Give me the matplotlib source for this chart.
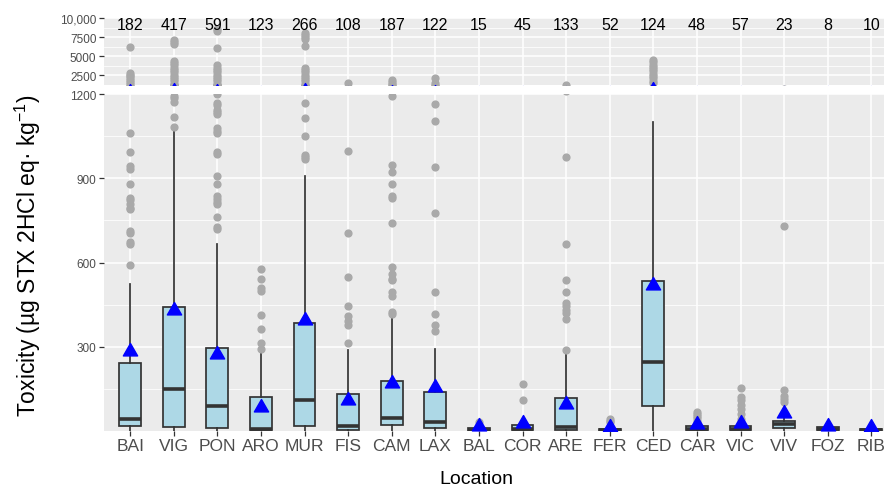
import matplotlib
matplotlib.use("Agg")
import matplotlib.pyplot as plt
from matplotlib.path import Path
import numpy as np

plt.rcParams['font.family'] = ['Liberation Sans', 'DejaVu Sans']
plt.rcParams['mathtext.fontset'] = 'custom'
plt.rcParams['mathtext.rm'] = 'Liberation Sans'
plt.rcParams['mathtext.it'] = 'Liberation Sans:italic'

# ---- data -------------------------------------------------------------
sites = ["BAI", "VIG", "PON", "ARO", "MUR", "FIS", "CAM", "LAX", "BAL",
         "COR", "ARE", "FER", "CED", "CAR", "VIC", "VIV", "FOZ", "RIB"]
counts = [182, 417, 591, 123, 266, 108, 187, 122, 15,
          45, 133, 52, 124, 48, 57, 23, 8, 10]

q1 = [20, 14, 11, 3, 19, 6, 21, 13, 2, 3, 3, 2, 90, 3, 3, 11, 3, 2]
median = [43, 149, 90, 8, 110, 19, 46, 33, 5, 8, 16, 4, 246, 8, 8, 25, 7, 4]
q3 = [243, 442, 295, 122, 384, 131, 178, 140, 10, 22, 119, 7, 533, 20, 20, 37, 15, 8]
whisk_lo = [0, 0, 0, 0, 0, 0, 0, 0, 0, 0, 0, 0, 0, 0, 0, 0, 0, 0]
whisk_hi = [523, 1070, 666, 282, 910, 290, 405, 294, 18, 40, 275, 10, 1100, 32, 35, 50, 20, 12]
means = [285, 430, 275, 85, 397, 110, 172, 158, 20, 28, 96, 14, 521, 25, 28, 66, 20, 16]

outliers = {
    "BAI": [592, 667, 674, 706, 712, 790, 795, 810, 822, 830, 880, 934, 944,
            995, 1060, 1350, 1600, 1850, 2100, 2350, 2600, 2850, 6200],
    "VIG": [1084, 1117, 1170, 1184, 1192, 1400, 1700, 2000, 2300, 2600, 2900,
            3200, 3500, 3800, 4100, 4400, 6600, 6850, 7100],
    "PON": [719, 727, 764, 807, 816, 828, 837, 881, 910, 987, 993, 1062, 1070,
            1078, 1129, 1135, 1144, 1161, 1168, 1200, 1400, 1700, 2000, 2300,
            2600, 2900, 3200, 3500, 3800, 6100, 8300, 8600],
    "ARO": [293, 314, 365, 412, 500, 510, 540, 576],
    "MUR": [967, 975, 984, 1052, 1114, 1168, 1400, 1700, 2000, 2300, 2600,
            2900, 3200, 3500, 6400, 7300, 7550, 7800, 8100],
    "FIS": [313, 379, 391, 409, 444, 550, 706, 998, 1490],
    "CAM": [417, 426, 480, 497, 538, 541, 561, 584, 740, 830, 837, 880, 924,
            948, 1194, 1350, 1600, 1850],
    "LAX": [358, 379, 418, 495, 775, 939, 1105, 1165, 1500, 2150],
    "BAL": [33],
    "COR": [112, 167],
    "ARE": [290, 400, 420, 432, 444, 456, 497, 538, 665, 977, 1210],
    "FER": [32, 38, 44],
    "CED": [1500, 1800, 2100, 2400, 2700, 3000, 3300, 3600, 3900, 4200, 4500],
    "CAR": [38, 46, 54, 62, 68],
    "VIC": [42, 60, 78, 92, 110, 122, 154],
    "VIV": [103, 115, 125, 147, 729],
    "FOZ": [],
    "RIB": [],
}

low_ticks = [300, 600, 900, 1200]
low_tick_labels = ["300", "600", "900", "1200"]
high_ticks = [2500, 5000, 7500, 10000]
high_tick_labels = ["2500", "5000", "7500", "10,000"]

# ---- styling -------------------------------------------------------------
W, H = 884, 489
fig = plt.figure(figsize=(W / 100, H / 100), dpi=100)

left_px, right_px = 104, 897.5
ax_hi = fig.add_axes([left_px / W, 1 - 86 / H, (right_px - left_px) / W, 67 / H])
ax_lo = fig.add_axes([left_px / W, 1 - 431.7 / H, (right_px - left_px) / W, (431.7 - 95) / H])

panel_bg = "#EBEBEB"
edge = "#333333"
positions = np.arange(1, len(sites) + 1)

stats = []
for i, s in enumerate(sites):
    stats.append(dict(label=s, q1=q1[i], med=median[i], q3=q3[i],
                      whislo=whisk_lo[i], whishi=whisk_hi[i],
                      mean=means[i], fliers=outliers[s]))

# flattened triangle, like ggplot's filled triangle
tri = Path([(-1.0, -0.62), (1.0, -0.62), (0.0, 1.12), (-1.0, -0.62)],
           [Path.MOVETO, Path.LINETO, Path.LINETO, Path.CLOSEPOLY])

for ax in (ax_hi, ax_lo):
    ax.set_facecolor(panel_bg)
    for sp in ax.spines.values():
        sp.set_visible(False)
    ax.set_axisbelow(True)
    ax.grid(True, which="major", color="white", lw=1.1)
    ax.grid(True, which="minor", axis="y", color="white", lw=0.55)
    ax.bxp(stats, positions=positions, widths=0.5, patch_artist=True,
           showcaps=False, showmeans=True, showfliers=True,
           boxprops=dict(facecolor="#ADD8E6", edgecolor=edge, lw=1.25),
           medianprops=dict(color=edge, lw=2.6, solid_capstyle="butt"),
           whiskerprops=dict(color=edge, lw=1.25),
           flierprops=dict(marker="o", markersize=4.9, markerfacecolor="#A9A9A9",
                           markeredgecolor="#A9A9A9", linestyle="none"),
           meanprops=dict(marker=tri, markersize=11.5, markerfacecolor="blue",
                          markeredgecolor="blue", linestyle="none"))
    ax.set_xlim(0.4, len(sites) + 0.6)
    ax.tick_params(axis="y", colors="#333333", labelcolor="#4D4D4D",
                   labelsize=8.5, length=3.5, width=0.9, pad=2)

# lower segment
ax_lo.set_ylim(2, 1200)
ax_lo.set_yticks(low_ticks)
ax_lo.set_yticklabels(low_tick_labels)
ax_lo.set_yticks([150, 450, 750, 1050], minor=True)
ax_lo.tick_params(axis="y", which="minor", length=0)
ax_lo.set_xticks(positions)
ax_lo.set_xticklabels(sites)
ax_lo.tick_params(axis="x", colors="#333333", labelcolor="#4D4D4D",
                  labelsize=12.5, length=3.5, width=0.9, pad=2)

# upper segment
ax_hi.set_ylim(1230, 10000)
ax_hi.set_yticks(high_ticks)
ax_hi.set_yticklabels(high_tick_labels)
ax_hi.set_yticks([3750, 6250, 8750], minor=True)
ax_hi.tick_params(axis="y", which="minor", length=0)
ax_hi.set_xticks(positions)
ax_hi.tick_params(axis="x", length=0, labelbottom=False)

# sample sizes
for x, n in zip(positions, counts):
    ax_hi.text(x, 9150, str(n), ha="center", va="center", fontsize=11.5,
               color="black", clip_on=False)

fig.text(28 / W, 1 - 256 / H, "Toxicity (µg STX 2HCl eq· kg$^{-1}$)",
         rotation=90, ha="center", va="center", fontsize=16.5, color="black")
fig.text(476 / W, 1 - 480 / H, "Location", ha="center", va="center",
         fontsize=14, color="black")

fig.savefig("out.png", dpi=100)
